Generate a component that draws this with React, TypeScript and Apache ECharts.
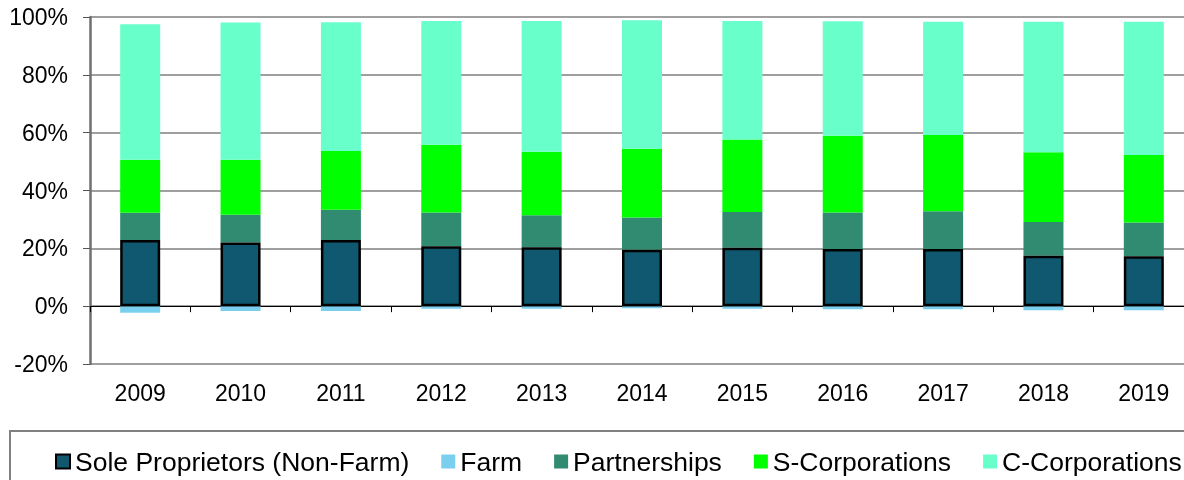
import React, { useEffect, useRef } from "react";
import * as echarts from "echarts";

const years = ["2009", "2010", "2011", "2012", "2013", "2014", "2015", "2016", "2017", "2018", "2019"];
const soleProprietors = [22.9, 22.0, 22.9, 20.7, 20.4, 19.5, 20.2, 19.8, 19.8, 17.4, 17.3];
const farm = [-2.3, -1.7, -1.7, -0.9, -0.9, -0.7, -0.9, -1.1, -1.1, -1.4, -1.4];
const partnerships = [9.4, 9.6, 10.4, 11.7, 11.0, 11.2, 12.4, 12.6, 13.0, 11.7, 11.6];
const sCorporations = [18.3, 19.0, 20.4, 23.4, 22.0, 23.7, 25.0, 26.5, 26.4, 24.1, 23.4];
const cCorporations = [46.9, 47.5, 44.5, 42.8, 45.2, 44.5, 41.0, 39.6, 39.2, 45.2, 46.1];

const FONT = "'Liberation Sans', Arial, sans-serif";

export default function App() {
  const ref = useRef<HTMLDivElement>(null);
  useEffect(() => {
    if (!ref.current) return;
    const chart = echarts.init(ref.current, undefined, { renderer: "svg" });
    const bar = (name: string, data: number[], color: string, extra: any = {}) => ({
      name,
      type: "bar",
      stack: "total",
      barWidth: 40,
      data,
      itemStyle: { color },
      ...extra,
    });
    chart.setOption({
      animation: false,
      textStyle: { fontFamily: FONT },
      grid: { left: 90, top: 17, width: 1104, height: 347 },
      legend: {
        left: 10,
        top: 431,
        width: 1400,
        padding: [17, 40, 30, 45],
        borderColor: "#808080",
        borderWidth: 2,
        itemWidth: 14,
        itemHeight: 14,
        itemGap: 32,
        icon: "rect",
        textStyle: { fontSize: 26.5, color: "#000", fontFamily: FONT },
        data: ["Sole Proprietors (Non-Farm)", "Farm", "Partnerships", "S-Corporations", "C-Corporations"],
      },
      xAxis: [
        {
          type: "category",
          data: years,
          axisLine: { onZero: true, lineStyle: { color: "#000", width: 1 } },
          axisTick: { show: true, length: 6, lineStyle: { color: "#000" } },
          axisLabel: { show: false },
        },
        {
          type: "category",
          data: years,
          position: "bottom",
          axisLine: { show: false, onZero: false },
          axisTick: { show: false },
          axisLabel: { show: true, margin: 17, fontSize: 23, color: "#000", fontFamily: FONT },
        },
      ],
      yAxis: {
        type: "value",
        min: -20,
        max: 100,
        interval: 20,
        axisLine: { show: true, lineStyle: { color: "#6f6f6f", width: 2.5 } },
        axisTick: { show: true, length: 7, lineStyle: { color: "#555", width: 1 } },
        axisLabel: { formatter: "{value}%", fontSize: 23, color: "#000", margin: 22, fontFamily: FONT },
        splitLine: { show: true, lineStyle: { color: "#7f7f7f", width: 1.5 } },
      },
      series: [
        bar("Sole Proprietors (Non-Farm)", soleProprietors, "#0f5870", {
          itemStyle: { color: "#0f5870", borderColor: "#000", borderWidth: 2.5 },
          z: 3,
        }),
        bar("Farm", farm, "#7acfef"),
        bar("Partnerships", partnerships, "#318b70"),
        bar("S-Corporations", sCorporations, "#00ff00"),
        bar("C-Corporations", cCorporations, "#69ffcb"),
      ],
    });
    return () => chart.dispose();
  }, []);
  return <div ref={ref} style={{ position: "fixed", left: 0, top: 0, width: 1240, height: 480 }} />;
}
